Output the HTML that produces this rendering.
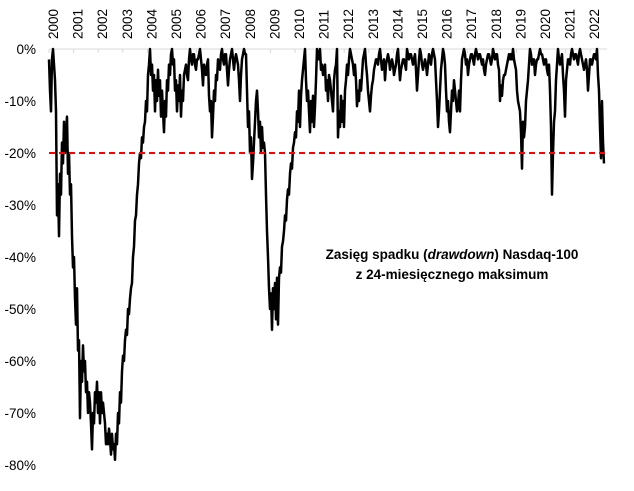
<!DOCTYPE html>
<html><head><meta charset="utf-8"><style>
html,body{margin:0;padding:0;background:#fff;}
svg{display:block;font-family:"Liberation Sans",sans-serif;}
</style></head><body>
<svg id="chart" width="634" height="491"></svg>
<script>
const startYear = 2000.0;
const stepYears = 1/24.6;
const yearTicks = [2000,2001,2002,2003,2004,2005,2006,2007,2008,2009,2010,2011,2012,2013,2014,2015,2016,2017,2018,2019,2020,2021,2022];
const yTicks = [0,-10,-20,-30,-40,-50,-60,-70,-80];
const thresholdValue = [-20];
const drawdown = [
-2,-8,-12,-2,0,-3,-6,-12,-32,-26,
-36,-24,-28,-18,-22,-14,-20,-16,-13,-24,
-20,-28,-26,-36,-42,-40,-48,-53,-46,-58,
-56,-71,-60,-64,-57,-62,-60,-66,-64,-70,
-66,-68,-72,-77,-70,-72,-66,-68,-64,-70,
-66,-72,-66,-70,-68,-70,-72,-76,-74,-76,
-73,-75,-78,-74,-77,-76,-79,-74,-76,-70,
-72,-66,-68,-62,-59,-60,-56,-54,-55,-50,
-51,-48,-46,-45,-40,-38,-33,-32,-28,-26,
-22,-20,-21,-17,-18,-15,-14,-10,-12,-5,
-3,0,-5,-3,-8,-5,-12,-6,-10,-4,
-9,-6,-13,-8,-12,-16,-10,-13,-6,-8,
-3,-5,-1,0,-3,-2,-8,-6,-12,-7,
-10,-5,-13,-8,-10,-5,-4,-3,-5,-6,
-2,0,-2,-3,-1,-1,-3,-4,-2,-2,
-1,0,-2,-4,-7,-3,-4,-5,-3,-2,
-9,-12,-10,-17,-13,-8,-10,-5,-6,-2,
-3,-4,-1,0,-2,-3,-1,-1,-4,-7,
-4,-2,-1,0,-2,-4,-2,-1,-2,-3,
-6,-10,-5,-2,-1,0,-1,-1,-8,-15,
-12,-20,-17,-25,-22,-18,-14,-10,-8,-12,
-17,-14,-20,-15,-19,-18,-20,-28,-35,-40,
-46,-50,-47,-54,-46,-50,-45,-52,-44,-53,
-44,-42,-43,-38,-37,-35,-32,-33,-29,-27,
-28,-24,-22,-23,-19,-18,-16,-17,-12,-14,
-8,-15,-9,-6,-4,-2,0,-6,-10,-8,
-12,-16,-10,-14,-9,-15,-11,-6,0,-1,
-2,0,-4,-3,-5,-4,-3,-8,-6,-10,
-5,-6,-8,-10,-12,-6,-4,-3,0,-17,
-12,-15,-9,-14,-10,-15,-8,-6,-3,-5,
-2,0,-1,-2,-3,-5,-3,-6,-11,-8,
-10,-6,-8,-5,-2,-1,0,-3,-5,-8,
-10,-12,-9,-7,-6,-4,-3,-2,-2,-3,
-1,0,-2,-4,-3,-2,-6,-3,-2,-1,
-2,-4,-3,-2,-3,-5,-4,-3,-1,0,
-3,-6,-4,-3,-2,-2,-3,-4,0,-1,
-2,-1,-1,-2,-3,-2,-1,-4,-8,-5,
-2,0,-1,-3,-4,-3,-2,-3,-5,-3,
-1,-2,-3,-1,0,-1,-2,-6,-10,-15,
-12,-8,-4,-2,0,-1,-3,-8,-12,-10,
-14,-16,-12,-8,-10,-6,-8,-10,-12,-11,
-8,-12,-6,-2,-1,0,-1,-3,-2,-5,
-3,-2,-1,-1,-2,-3,-1,0,-1,-2,
-1,-1,-2,-3,-2,-4,-5,-3,-2,-1,
-1,-2,-3,-2,0,-1,-2,-1,-1,-3,
-4,-10,-7,-9,-6,-5,-5,-4,-3,-2,
-1,-2,-1,-2,0,-2,-3,-4,-8,-10,
-11,-12,-16,-23,-14,-17,-15,-10,-8,-6,
-3,0,-1,-3,-2,-2,-5,-3,-2,-2,
-1,0,-1,-1,-2,-3,-2,-2,-4,-5,
-3,-8,-15,-28,-20,-14,-12,-6,-3,0,
-2,-3,-2,-1,-5,-8,-13,-6,-4,-2,
-2,-3,-1,0,-1,-2,-1,-1,-2,-3,
-1,0,-1,-2,-3,-4,-3,-2,-4,-8,
-5,-2,-2,-3,-2,-1,-1,-2,0,-5,
-8,-15,-21,-10,-18,-22
];

const NS = "http://www.w3.org/2000/svg";
const svg = document.getElementById('chart');
const X0 = 49, PX_PER_YEAR = 24.6, AXIS_END = 607;
const Y0 = 49, PX_PER_PCT = 5.2;
const xScale = yr => X0 + (yr - 2000) * PX_PER_YEAR;
const yScale = v => Y0 - v * PX_PER_PCT;
function mk(tag, attrs){ const e = document.createElementNS(NS, tag); for (const k in attrs) e.setAttribute(k, attrs[k]); return e; }

const axis = mk('line', {x1:X0, y1:Y0, x2:AXIS_END, y2:Y0, stroke:'#d9d9d9', 'stroke-width':1});


svg.appendChild(axis);

yearTicks.forEach(yr => {
  const x = xScale(yr);
  const t = mk('line', {x1:x, y1:Y0, x2:x, y2:Y0+4, stroke:'#d9d9d9', 'stroke-width':1});
  
  
  svg.appendChild(t);
  const lbl = mk('text', {x:0, y:0, 'font-size':13.5, fill:'#000', 'text-anchor':'start', transform:`translate(${x+9},39) rotate(-90)`});
  lbl.textContent = yr;
  
  
  svg.appendChild(lbl);
});

yTicks.forEach(v => {
  const lbl = mk('text', {x:36, y:yScale(v)+5, 'font-size':13.5, fill:'#000', 'text-anchor':'end'});
  lbl.textContent = v + '%';
  
  
  svg.appendChild(lbl);
});

let d = '';
drawdown.forEach((v, i) => {
  const x = xScale(startYear + i * stepYears);
  d += (i ? 'L' : 'M') + x.toFixed(2) + ',' + yScale(v).toFixed(2);
});
const path = mk('path', {d:d, fill:'none', stroke:'#000', 'stroke-width':2.5, 'stroke-linejoin':'round'});


svg.appendChild(path);

const th = mk('line', {x1:X0, y1:yScale(thresholdValue[0]), x2:AXIS_END, y2:yScale(thresholdValue[0]), stroke:'#ff0000', 'stroke-width':2, 'stroke-dasharray':'6,4'});


svg.appendChild(th);

const t1 = mk('text', {x:452, y:259, 'font-size':13.5, 'font-weight':'bold', 'text-anchor':'middle', fill:'#000'});
t1.innerHTML = 'Zasięg spadku (<tspan font-style="italic">drawdown</tspan>) Nasdaq-100';


svg.appendChild(t1);
const t2 = mk('text', {x:452, y:279, 'font-size':13.5, 'font-weight':'bold', 'text-anchor':'middle', fill:'#000'});
t2.textContent = 'z 24-miesięcznego maksimum';


svg.appendChild(t2);
</script>
</body></html>
